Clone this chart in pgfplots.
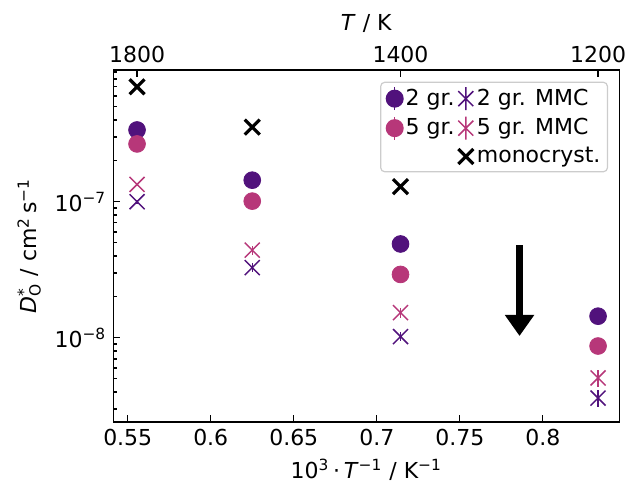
\documentclass[border=0pt]{standalone}
\usepackage{fontspec}
\setmainfont{DejaVu Sans}
\usepackage{pgfplots}
\usepackage{pgfplotstable}
\pgfplotsset{compat=1.18}
\usetikzlibrary{arrows.meta}
\definecolor{cA}{HTML}{51127C}
\definecolor{cB}{HTML}{B73779}

\pgfplotstableread{
x y
0.5556 7.0e-7
0.6250 3.54e-7
0.7143 1.29e-7
}\mono
\pgfplotstableread{
x y
0.5556 3.37e-7
0.6250 1.44e-7
0.7143 4.89e-8
0.8333 1.44e-8
}\twogr
\pgfplotstableread{
x y
0.5556 2.66e-7
0.6250 1.01e-7
0.7143 2.92e-8
0.8333 8.69e-9
}\fivegr
\pgfplotstableread{
x y e
0.5556 1.00e-7 0.03
0.6250 3.28e-8 0.08
0.7143 1.02e-8 0.08
0.8333 3.60e-9 0.14
}\twommc
\pgfplotstableread{
x y e
0.5556 1.34e-7 0.03
0.6250 4.41e-8 0.08
0.7143 1.53e-8 0.08
0.8333 5.06e-9 0.14
}\fivemmc

\begin{document}
\begin{tikzpicture}[font=\fontsize{11}{13}\selectfont]
\pgfplotsset{
  common/.style={
    scale only axis, width=253pt, height=176pt,
    xmin=0.5413, xmax=0.8461,
    tick align=inside,
    major tick length=3.5pt, minor tick length=2pt,
    every tick/.style={black, line width=0.7pt},
    axis line style={line width=0.7pt},
    tick label style={font=\fontsize{11}{13}\selectfont},
    label style={font=\fontsize{11}{13}\selectfont},
  }
}
\begin{axis}[common, name=main,
  ymode=log, ymin=2.4e-9, ymax=9.3e-7,
  xtick={0.55,0.6,0.65,0.7,0.75,0.8},
  xticklabels={0.55,0.6,0.65,0.7,0.75,0.8},
  ytick={1e-8,1e-7},
  yticklabels={10\textsuperscript{−8},10\textsuperscript{−7}},
  minor ytick={3e-9,4e-9,5e-9,6e-9,7e-9,8e-9,9e-9,2e-8,3e-8,4e-8,5e-8,6e-8,7e-8,8e-8,9e-8,2e-7,3e-7,4e-7,5e-7,6e-7,7e-7,8e-7,9e-7},
  xtick pos=bottom, ytick pos=left,
  xlabel={10\textsuperscript{3}\,·\,\textit{T}\textsuperscript{−1} / K\textsuperscript{−1}},
  ylabel={\textit{D}\makebox[0pt][l]{\textsuperscript{*}}\textsubscript{O} / cm\textsuperscript{2}\,s\textsuperscript{−1}},
  legend columns=2,
  legend cell align=left,
  legend style={at={(0.9777,0.9668)}, anchor=north east,
    draw=black!20, rounded corners=2pt, line width=0.6pt, fill=white,
    inner xsep=2.5pt, inner ysep=2pt,
    row sep=2.4pt, column sep=0pt,
    nodes={inner sep=1pt},
    font=\fontsize{11}{13}\selectfont},
]
\addplot[only marks, mark=*, color=cA, mark size=4.2pt, forget plot] table[x=x,y=y]{\twogr};
\addplot[only marks, mark=*, color=cB, mark size=4.2pt, forget plot] table[x=x,y=y]{\fivegr};
\addplot[only marks, mark=x, color=cB, mark size=5.3pt, mark options={line width=0.75pt}, line width=0.75pt, forget plot,
  error bars/.cd, y dir=both, y explicit relative, error mark=none,
  error bar style={line width=0.75pt, cB}] table[x=x,y=y,y error=e]{\fivemmc};
\addplot[only marks, mark=x, color=cA, mark size=5.3pt, mark options={line width=0.75pt}, line width=0.75pt, forget plot,
  error bars/.cd, y dir=both, y explicit relative, error mark=none,
  error bar style={line width=0.75pt, cA}] table[x=x,y=y,y error=e]{\twommc};
\addplot[only marks, mark=x, color=black, mark size=5.3pt, mark options={line width=1.6pt}, forget plot] table[x=x,y=y]{\mono};

\draw[line width=3.3pt, -{Triangle[length=10.5pt, width=14pt]}] (axis cs:0.786,4.8e-8) -- (axis cs:0.786,1.03e-8);

\addlegendimage{legend image code/.code={\draw[cA, line width=0.75pt] (4.5pt,-5.8pt)--(4.5pt,5.8pt); \fill[cA] (4.5pt,0pt) circle (4.2pt);}}
\addlegendentry{2 gr.}
\addlegendimage{legend image code/.code={\draw[cA, line width=0.75pt] (4.5pt,-5.8pt)--(4.5pt,5.8pt) (0.75pt,-3.75pt)--(8.25pt,3.75pt) (0.75pt,3.75pt)--(8.25pt,-3.75pt);}}
\addlegendentry{2 gr. MMC}
\addlegendimage{legend image code/.code={\draw[cB, line width=0.75pt] (4.5pt,-5.8pt)--(4.5pt,5.8pt); \fill[cB] (4.5pt,0pt) circle (4.2pt);}}
\addlegendentry{5 gr.}
\addlegendimage{legend image code/.code={\draw[cB, line width=0.75pt] (4.5pt,-5.8pt)--(4.5pt,5.8pt) (0.75pt,-3.75pt)--(8.25pt,3.75pt) (0.75pt,3.75pt)--(8.25pt,-3.75pt);}}
\addlegendentry{5 gr. MMC}
\addlegendimage{empty legend}
\addlegendentry{}
\addlegendimage{legend image code/.code={\draw[black, line width=1.6pt] (0.75pt,-3.75pt)--(8.25pt,3.75pt) (0.75pt,3.75pt)--(8.25pt,-3.75pt);}}
\addlegendentry{monocryst.}
\end{axis}
\begin{axis}[common,
  ymin=0, ymax=1,
  axis x line*=top, axis y line=none,
  xtick={0.5556,0.7143,0.8333},
  xticklabels={1800,1400,1200},
  xlabel={\textit{T} / K},
]
\end{axis}
\pgfresetboundingbox
\path ([shift={(-56.65pt,-30pt)}]main.south west) rectangle ([shift={(4.85pt,35pt)}]main.north east);
\end{tikzpicture}
\end{document}
